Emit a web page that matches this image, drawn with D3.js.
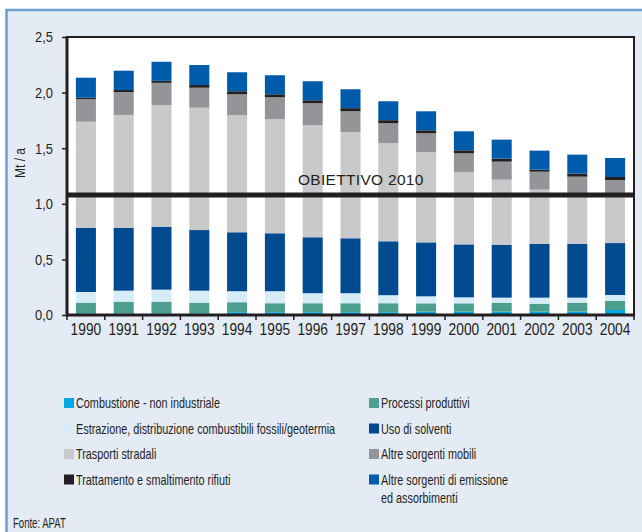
<!DOCTYPE html>
<html>
<head>
<meta charset="utf-8">
<script src="https://cdn.jsdelivr.net/npm/d3@7"></script>
<style>
  body { margin: 0; background: #fff; }
  svg { display: block; }
  text { fill: #231f20; font-family: "Liberation Sans", Arial, sans-serif; }
</style>
</head>
<body>
<svg width="642" height="532"></svg>
<script>
// Mt / a, stacked bottom to top
var years = [1990, 1991, 1992, 1993, 1994, 1995, 1996, 1997, 1998, 1999, 2000, 2001, 2002, 2003, 2004];
var combustione = [0.015, 0.015, 0.015, 0.015, 0.025, 0.025, 0.025, 0.025, 0.025, 0.03, 0.03, 0.03, 0.03, 0.03, 0.045];
var processi    = [0.096, 0.105, 0.105, 0.096, 0.09, 0.081, 0.081, 0.081, 0.081, 0.075, 0.075, 0.081, 0.072, 0.081, 0.081];
var estrazione  = [0.096, 0.099, 0.108, 0.108, 0.099, 0.108, 0.09, 0.09, 0.072, 0.063, 0.054, 0.045, 0.054, 0.045, 0.054];
var solventi    = [0.578, 0.566, 0.566, 0.545, 0.53, 0.521, 0.503, 0.494, 0.485, 0.485, 0.476, 0.476, 0.485, 0.485, 0.467];
var trasporti   = [0.953, 1.014, 1.094, 1.1, 1.053, 1.026, 1.008, 0.954, 0.882, 0.81, 0.648, 0.585, 0.486, 0.44, 0.42];
var mobili      = [0.204, 0.206, 0.2, 0.18, 0.188, 0.197, 0.197, 0.189, 0.18, 0.171, 0.171, 0.162, 0.162, 0.163, 0.147];
var rifiuti     = [0.012, 0.018, 0.018, 0.024, 0.027, 0.027, 0.027, 0.027, 0.027, 0.027, 0.027, 0.027, 0.018, 0.027, 0.027];
var altre       = [0.18, 0.174, 0.171, 0.18, 0.171, 0.171, 0.171, 0.17, 0.17, 0.171, 0.171, 0.171, 0.171, 0.171, 0.171];

var keys = ["combustione", "processi", "estrazione", "solventi", "trasporti", "mobili", "rifiuti", "altre"];
var labels = {
  combustione: ["Combustione - non industriale"],
  processi: ["Processi produttivi"],
  estrazione: ["Estrazione, distribuzione combustibili fossili/geotermia"],
  solventi: ["Uso di solventi"],
  trasporti: ["Trasporti stradali"],
  mobili: ["Altre sorgenti mobili"],
  rifiuti: ["Trattamento e smaltimento rifiuti"],
  altre: ["Altre sorgenti di emissione", "ed assorbimenti"]
};
var legendCols = [["combustione", "estrazione", "trasporti", "rifiuti"], ["processi", "solventi", "mobili", "altre"]];
var yTicks = [0, 0.5, 1, 1.5, 2, 2.5];
var objective = 1.08;
var objectiveLabel = "OBIETTIVO 2010";

var colors = {
  combustione: "#00a7e3", processi: "#4b9f8c", estrazione: "#d6ecf9", solventi: "#004a8f",
  trasporti: "#c8c9cb", mobili: "#939598", rifiuti: "#231f20", altre: "#005baa"
};

var svg = d3.select("svg"),
    width = +svg.attr("width"),
    height = +svg.attr("height");

var series = { combustione: combustione, processi: processi, estrazione: estrazione, solventi: solventi,
               trasporti: trasporti, mobili: mobili, rifiuti: rifiuti, altre: altre };
var data = years.map(function (yr, i) {
  var row = { year: yr };
  keys.forEach(function (k) { row[k] = series[k][i]; });
  return row;
});

// panel
svg.append("rect").attr("x", 6).attr("y", 9).attr("width", width - 6).attr("height", height - 9)
    .attr("fill", "#e4ebf5");
svg.append("path").attr("d", "M6.5," + height + "V10H" + width)
    .attr("fill", "none").attr("stroke", "#6c9fd1").attr("stroke-width", 2.5);

var pl = 67, pr = 634, pt = 37, pb = 315;

var x = d3.scaleBand()
    .domain(years)
    .range([pl, pr])
    .paddingInner(0.47)
    .paddingOuter(0.235);

var y = d3.scaleLinear()
    .domain([0, 2.5])
    .range([pb, pt]);

svg.append("rect").attr("x", pl).attr("y", pt).attr("width", pr - pl).attr("height", pb - pt)
    .attr("fill", "#fff");

var stack = d3.stack().keys(keys)(data);

svg.append("g").selectAll("g")
  .data(stack)
  .join("g")
    .attr("fill", function (d) { return colors[d.key]; })
  .selectAll("rect")
  .data(function (d) { return d; })
  .join("rect")
    .attr("x", function (d) { return x(d.data.year); })
    .attr("width", x.bandwidth())
    .attr("y", function (d) { return y(d[1]); })
    .attr("height", function (d) { return y(d[0]) - y(d[1]); });

// objective line
svg.append("line")
    .attr("x1", pl).attr("x2", pr)
    .attr("y1", y(objective)).attr("y2", y(objective))
    .attr("stroke", "#231f20").attr("stroke-width", 5);
svg.append("text")
    .attr("x", 298).attr("y", y(objective) - 10)
    .style("font-size", "15.5px").style("letter-spacing", "0.3px")
    .text(objectiveLabel);

// frame
svg.append("path").attr("d", "M" + pl + "," + pt + "H" + pr + "V" + pb)
    .attr("fill", "none").attr("stroke", "#231f20").attr("stroke-width", 2);

// y axis
var yAxis = d3.axisLeft(y)
    .tickValues(yTicks)
    .tickFormat(function (d) { return d3.format(".1f")(d).replace(".", ","); })
    .tickSize(5)
    .tickPadding(9);
var gY = svg.append("g").attr("transform", "translate(" + pl + ",0)").call(yAxis);
gY.select(".domain").remove();
gY.selectAll(".tick line").attr("stroke", "#231f20").attr("stroke-width", 1.5);
gY.selectAll(".tick text")
    .attr("x", 0)
    .attr("transform", "translate(-14,0) scale(0.86,1)")
    .style("font-size", "15px").attr("fill", "#231f20");
svg.append("line").attr("x1", pl).attr("x2", pl).attr("y1", pt - 1).attr("y2", pb + 1.5)
    .attr("stroke", "#231f20").attr("stroke-width", 3);

// x axis: labels centred, ticks between the categories
var xAxis = d3.axisBottom(x).tickSize(0).tickPadding(0);
var gX = svg.append("g").attr("transform", "translate(0," + pb + ")").call(xAxis);
gX.select(".domain").remove();
gX.selectAll(".tick text").attr("y", 0).attr("dy", 0)
    .attr("transform", "translate(0,20) scale(0.86,1)")
    .style("font-size", "16px").attr("fill", "#231f20");
svg.append("line").attr("x1", pl).attr("x2", pr + 1).attr("y1", pb).attr("y2", pb)
    .attr("stroke", "#231f20").attr("stroke-width", 3);
svg.append("g").selectAll("line")
  .data(d3.range(years.length + 1))
  .join("line")
    .attr("x1", function (k) { return pl + k * x.step(); })
    .attr("x2", function (k) { return pl + k * x.step(); })
    .attr("y1", pb).attr("y2", pb + 5)
    .attr("stroke", "#231f20").attr("stroke-width", 1.5);

// y title
svg.append("text")
    .attr("transform", "translate(25,163) rotate(-90) scale(0.86,1)")
    .attr("text-anchor", "middle")
    .style("font-size", "14px")
    .text("Mt / a");

// legend
var legendX = [64, 369], rowY = [408, 433.5, 459, 484.5], lineGap = 18.5;
legendCols.forEach(function (col, c) {
  var g = svg.append("g").selectAll("g")
    .data(col)
    .join("g")
      .attr("transform", function (d, i) { return "translate(" + legendX[c] + "," + rowY[i] + ")"; });
  g.append("rect").attr("x", 0).attr("y", -10).attr("width", 10).attr("height", 10)
      .attr("fill", function (d) { return colors[d]; });
  g.append("text")
      .attr("transform", "translate(12,0) scale(0.775,1)")
      .style("font-size", "14px")
    .selectAll("tspan")
    .data(function (d) { return labels[d]; })
    .join("tspan")
      .attr("x", 0)
      .attr("y", function (d, i) { return i * lineGap; })
      .text(function (d) { return d; });
});

svg.append("text")
    .attr("transform", "translate(13,528) scale(0.66,1)")
    .style("font-size", "14.5px")
    .text("Fonte: APAT");
</script>
</body>
</html>
